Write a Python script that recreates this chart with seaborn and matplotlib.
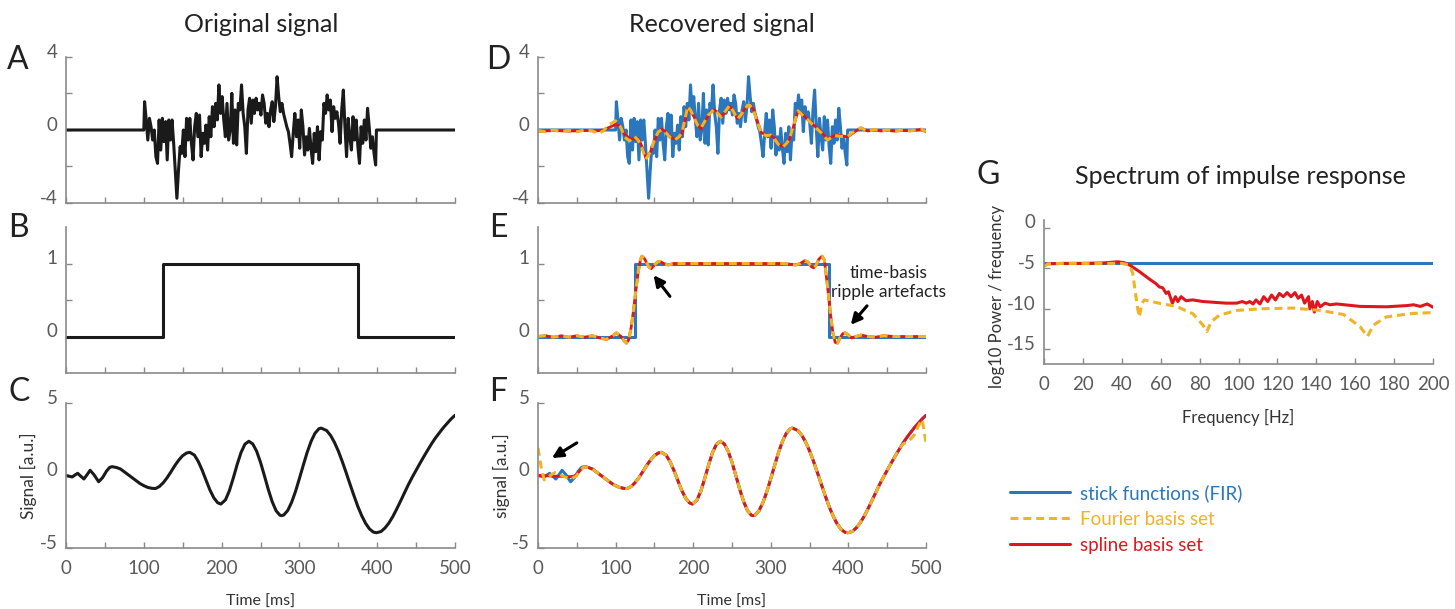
import numpy as np
import pandas as pd
import seaborn as sns
import matplotlib.pyplot as plt
from matplotlib.transforms import ScaledTranslation

sns.set_theme(style='ticks')
plt.rcParams['font.family'] = ['Lato', 'DejaVu Sans']
plt.rcParams['font.weight'] = 'normal'

blue = '#2b77bd'
yellow = '#f0b323'
red = '#e0161d'
grey = '#8a8a8a'
txt = '#5a5a5a'

# ---- noisy stimulus (panels A and D, blue in D), 101..398 ms
noise_first = [1.55, 0.55, -0.55, 0.64, 0.18, -0.55, 0.0, -1.46, -1.83, 0.55,
               -1.10, 0.64, -0.64, 0.46, -1.64, 0.55, -0.55, 0.55, -0.73, -2.19,
               -3.74, -2.19, -0.91, -1.28, 0.0, -1.46, 0.64, -0.55, 0.64, -0.73,
               -1.64, 0.18, 0.91, -0.37, 0.82, -1.46, -0.18, -0.73, 0.27, -1.10,
               0.73, -0.37, 1.28, 0.18, 1.46, 0.55, 2.47, 0.91, 1.83, 0.55,
               -0.37, 1.46, -0.55, 0.0, 2.01, -0.73, 1.10, -0.82, 1.46, 1.10,
               2.47, 0.91, 0.18, -1.28, 1.10, 1.74, 0.37, 1.64, 0.91, 1.74,
               1.10, 1.46]
noise_second = [0.82, 1.92, 1.46, 0.37, 0.91, 0.18, 1.10, 1.55, 0.46, 1.28,
                2.92, 1.83, 1.00, 1.46, 0.91, 0.55, 0.18, -0.09, -0.73, -1.46,
                -0.18, 0.91, -0.37, 0.55, -1.00, 1.10, 0.18, -1.37, -0.37, -1.10,
                0.09, -1.00, -1.83, -0.18, -1.19, 0.18, -1.64, -0.09, -0.55, 1.46,
                0.91, 1.92, 1.10, 1.64, -0.09, 1.28, 0.64, 1.00, 0.37, -0.73,
                1.10, 2.19, 0.18, -1.46, 0.64, -0.37, -1.10, 0.73, -0.55, 0.55,
                -0.91, -1.83, 0.18, -0.73, 0.55, -0.55, 1.19, 0.18, -1.00, -0.37,
                -1.28, -1.92]

# ---- box stimulus (B, blue in E)
box_t = [0, 125, 125, 375, 375, 500]
box_v = [0, 0, 1, 1, 0, 0]

# ---- chirp stimulus (C, blue in F)
chirp_t = [0, 4, 8, 12, 15, 19, 23, 27, 31, 36, 42, 47, 52, 56, 59, 65, 70, 75, 80, 85,
           90, 95, 100, 105, 110, 115, 120, 125, 130, 135, 140, 145, 150, 155, 159, 165,
           170, 175, 180, 185, 190, 195, 199, 205, 210, 215, 220, 225, 230, 235, 240,
           245, 250, 255, 260, 265, 270, 275, 277, 280, 285, 290, 295, 300, 305, 310,
           315, 320, 325, 328, 335, 340, 345, 350, 355, 360, 365, 370, 375, 380, 385,
           390, 395, 399, 405, 410, 415, 420, 425, 430, 435, 440, 445, 450, 455, 460,
           465, 470, 475, 480, 485, 490, 495, 500]
chirp_v = [0.0, -0.05, -0.1, 0.05, 0.15, -0.05, -0.24, 0.05, 0.36, 0.05, -0.43, -0.15,
           0.3, 0.55, 0.61, 0.55, 0.45, 0.25, 0.05, -0.15, -0.35, -0.55, -0.7, -0.82,
           -0.88, -0.9, -0.76, -0.5, -0.15, 0.26, 0.69, 1.07, 1.37, 1.55, 1.6, 1.41,
           0.97, 0.37, -0.32, -1.0, -1.54, -1.88, -1.97, -1.68, -1.05, -0.18, 0.76,
           1.59, 2.16, 2.36, 2.18, 1.68, 0.91, -0.01, -0.96, -1.8, -2.43, -2.74, -2.77,
           -2.72, -2.41, -1.85, -1.1, -0.21, 0.71, 1.6, 2.35, 2.91, 3.22, 3.27, 3.1,
           2.77, 2.29, 1.69, 0.98, 0.21, -0.59, -1.37, -2.12, -2.76, -3.29, -3.68,
           -3.9, -3.95, -3.86, -3.62, -3.28, -2.84, -2.32, -1.77, -1.2, -0.64, -0.12,
           0.36, 0.84, 1.31, 1.76, 2.2, 2.6, 2.95, 3.3, 3.6, 3.9, 4.15]

# ---- recovered noise (D)
d_red_t = [0, 20, 40, 60, 75, 85, 92, 100, 106, 112, 118, 124, 129, 134, 139, 145, 150,
           155, 159, 165, 170, 176, 181, 185, 189, 193, 197, 202, 206, 210, 214, 219,
           223, 227, 232, 236, 241, 247, 252, 257, 262, 266, 270, 273, 278, 283, 288,
           294, 300, 305, 310, 315, 320, 324, 330, 335, 340, 348, 356, 365, 373, 382,
           390, 399, 408, 416, 425, 433, 442, 450, 459, 470, 480, 494, 500]
d_red_v = [-0.07, -0.03, -0.06, -0.03, -0.05, 0.0, 0.15, 0.3, 0.2, -0.25, -0.45, -0.5,
           -0.45, -0.9, -1.53, -1.2, -0.6, -0.15, 0.05, -0.1, -0.35, -0.5, -0.45, -0.25,
           0.4, 1.15, 1.0, 0.66, 0.3, 0.05, 0.35, 0.75, 1.0, 1.1, 0.95, 0.75, 0.95, 1.3,
           1.05, 0.62, 0.8, 1.15, 1.3, 1.39, 1.1, 0.45, -0.16, -0.25, -0.31, -0.45,
           -0.75, -0.9, -0.8, -0.53, 0.3, 1.02, 0.9, 0.57, 0.24, -0.1, -0.5, -0.3, -0.3,
           -0.38, -0.1, 0.11, -0.05, 0.0, -0.05, -0.02, -0.06, -0.03, -0.04, 0.03, -0.1]
d_yel_t = [0, 10, 20, 30, 40, 50, 60, 70, 78, 84] + d_red_t[6:]
d_yel_v = [-0.03, -0.1, 0.0, -0.08, -0.02, -0.1, 0.0, -0.05, -0.2, -0.05,
           0.3, 0.5, 0.2, -0.4, -0.6, -0.35, -0.55, -1.0, -1.6, -1.2, -0.55, -0.1, 0.0,
           -0.15, -0.4, -0.55, -0.4, -0.2, 0.5, 1.3, 1.05, 0.6, 0.25, 0.1, 0.4, 0.8,
           0.95, 1.15, 0.9, 0.7, 1.0, 1.35, 1.0, 0.6, 0.85, 1.1, 1.35, 1.35, 1.05, 0.4,
           -0.2, -0.3, -0.28, -0.5, -0.8, -0.95, -0.75, -0.5, 0.35, 1.05, 0.85, 0.55,
           0.2, -0.15, -0.55, -0.3, -0.35, -0.35, -0.05, 0.12, -0.08, 0.03, -0.05, 0.0,
           -0.06, 0.0, -0.05, 0.05, -0.1]

# ---- recovered box (E), spline and Fourier overlap
e_t = [0, 10, 20, 30, 40, 50, 60, 70, 80, 88, 95, 101, 107, 111, 114, 117, 120, 123,
       126, 129, 132, 134, 137, 140, 143, 146, 150, 154, 157, 162, 168, 175, 185, 200,
       220, 240, 260, 280, 300, 315, 325, 332, 338, 344, 348, 352, 355, 358, 362, 366,
       369, 371, 374, 377, 380, 383, 386, 389, 393, 396, 400, 404, 410, 416, 425, 435,
       445, 460, 480, 500]
e_v = [0.0, 0.01, -0.01, 0.01, -0.01, 0.01, -0.01, 0.01, -0.02, -0.04, 0.0, 0.05, 0.0,
       -0.06, -0.09, -0.04, 0.12, 0.35, 0.62, 0.88, 1.05, 1.1, 1.07, 1.01, 0.95, 0.93,
       0.98, 1.02, 1.03, 1.0, 0.98, 1.0, 1.0, 1.0, 1.0, 1.0, 1.0, 1.0, 1.0, 1.0, 0.99,
       0.98, 1.0, 1.04, 1.02, 0.96, 0.94, 0.97, 1.06, 1.1, 1.05, 0.88, 0.6, 0.3, 0.05,
       -0.08, -0.09, -0.02, 0.04, 0.05, 0.02, -0.02, 0.0, 0.02, 0.0, -0.01, 0.01, 0.0,
       0.0, 0.0]

# ---- recovered chirp (F): only the ends differ from the stimulus
f_red_start_t = [0, 10, 20, 30, 40, 46, 50, 55, 60]
f_red_start_v = [0.0, -0.02, -0.04, -0.06, -0.08, -0.05, 0.08, 0.4, 0.62]
f_yel_start_t = [0, 4, 8, 12, 17, 22, 27, 32, 38, 44, 49, 54, 59]
f_yel_start_v = [1.9, 0.6, -0.3, -0.2, 0.05, 0.2, 0.1, -0.05, -0.15, -0.2, -0.05, 0.3, 0.6]
f_yel_end_t = [465, 470, 475, 480, 485, 490, 495, 500]
f_yel_end_v = [1.8, 2.15, 2.3, 2.5, 2.8, 3.4, 3.85, 2.3]

# ---- spectra (G)
g_fir_f = [0, 200]
g_fir_v = [-4.4, -4.4]
g_red_f = [0, 2, 10, 20, 30, 38, 41, 44, 49, 54, 57.6, 59.3, 61, 62.8, 64, 66, 67.6, 68.8,
           70.5, 73, 76.5, 81.7, 93.7, 99, 102, 104, 105.8, 107.5, 109, 111, 113, 115,
           117, 119, 121, 123, 125, 127, 129, 130.7, 132.4, 134, 136, 136.7, 138, 139,
           140.5, 142, 144.5, 147, 150.5, 162.5, 176, 186.6, 190, 193.5, 197, 200]
g_red_v = [-4.7, -4.45, -4.4, -4.4, -4.35, -4.2, -4.3, -4.6, -5.4, -6.3, -6.9, -7.3,
           -7.4, -8.1, -7.9, -9.3, -8.5, -9.1, -8.5, -9.0, -8.9, -9.1, -9.3, -9.3, -9.1,
           -9.3, -9.1, -9.4, -8.9, -9.4, -8.5, -9.1, -8.3, -8.9, -8.1, -8.5, -8.0, -8.5,
           -8.0, -8.7, -8.3, -9.3, -8.5, -10.0, -9.1, -10.4, -9.1, -9.75, -9.3, -9.5,
           -9.4, -9.7, -9.75, -9.6, -9.5, -9.7, -9.4, -9.8]
g_yel_f = [0, 2, 10, 20, 30, 40, 43.9, 45.6, 48, 49, 50.4, 51.6, 59, 68, 76.5, 81.7,
           83.7, 86, 90, 99, 111, 128, 142, 154, 162.5, 166.3, 169.4, 176, 188, 200]
g_yel_v = [-4.8, -4.45, -4.4, -4.4, -4.4, -4.4, -4.6, -5.6, -9.75, -11.0, -9.3, -8.9,
           -9.3, -9.7, -10.6, -12.0, -12.8, -11.6, -10.8, -10.2, -10.0, -9.9, -10.2,
           -10.7, -12.2, -13.4, -12.0, -11.0, -10.6, -10.45]

legend_labels = ['stick functions (FIR)', 'Fourier basis set', 'spline basis set']

# assemble series
noise_vals = noise_first + noise_second
noise_t = np.linspace(101, 398, len(noise_vals))
sig_t = [0, 100] + list(noise_t) + [399, 500]
sig_v = [0, 0] + noise_vals + [0, 0]

chirp = pd.DataFrame({'t': chirp_t, 'v': chirp_v})
mid = chirp[(chirp.t >= 65)]
f_red_t = f_red_start_t + list(mid.t)
f_red_v = f_red_start_v + list(mid.v)
mid2 = chirp[(chirp.t >= 65) & (chirp.t <= 460)]
f_yel_t = f_yel_start_t + list(mid2.t) + f_yel_end_t
f_yel_v = f_yel_start_v + list(mid2.v) + f_yel_end_v

W, H = 1455, 609
fig = plt.figure(figsize=(W / 100, H / 100), dpi=100)


def add_ax(left, right, top, bottom):
    return fig.add_axes([left / W, 1 - bottom / H, (right - left) / W, (bottom - top) / H])


dash = (0, (2.6, 1.6))


def line(ax, x, y, color, lw=2.2, ls='-'):
    sns.lineplot(x=x, y=y, ax=ax, color=color, lw=lw, linestyle=ls,
                 sort=False, estimator=None)


def style(ax, xlim, ylim, yticks, ylabels, xticks, xlabels=None):
    ax.set_xlim(*xlim)
    ax.set_ylim(*ylim)
    for s in ['top', 'right']:
        ax.spines[s].set_visible(False)
    for s in ['left', 'bottom']:
        ax.spines[s].set_color(grey)
        ax.spines[s].set_linewidth(1.2)
    ax.set_yticks(yticks, ylabels)
    if xlabels is None:
        ax.set_xticks(xticks, [''] * len(xticks))
    else:
        ax.set_xticks(xticks, xlabels)
    ax.tick_params(direction='in', length=4, width=1, color=grey,
                   labelcolor=txt, labelsize=13.5)
    ax.tick_params(axis='y', pad=6)
    ax.tick_params(axis='x', pad=9)
    ax.set_xlabel('')
    ax.set_ylabel('')
    off = ScaledTranslation(0, 4.5 / 72, fig.dpi_scale_trans)
    for lab in ax.get_yticklabels():
        lab.set_transform(lab.get_transform() + off)


xt = list(range(0, 501, 50))
xt_lab = [str(v) if v % 100 == 0 else '' for v in xt]

# left column
axA = add_ax(66, 455, 57, 203)
line(axA, sig_t, sig_v, '#1a1a1a')
style(axA, (0, 500), (-4, 4), [-4, -2, 0, 2, 4], ['-4', '', '0', '', '4'], xt)

axB = add_ax(66, 455, 227, 373)
line(axB, box_t, box_v, '#1a1a1a')
style(axB, (0, 500), (-0.5, 1.5), [0, 0.5, 1], ['0', '', '1'], xt)

axC = add_ax(66, 455, 403, 548)
line(axC, chirp_t, chirp_v, '#1a1a1a')
style(axC, (0, 500), (-5, 5), [-5, 0, 5], ['-5', '0', '5'], xt, xt_lab)

# middle column
axD = add_ax(538, 926, 57, 203)
line(axD, sig_t, sig_v, blue)
line(axD, d_red_t, d_red_v, red, lw=2.0)
line(axD, d_yel_t, d_yel_v, yellow, lw=2.2, ls=dash)
style(axD, (0, 500), (-4, 4), [-4, -2, 0, 2, 4], ['-4', '', '0', '', '4'], xt)

axE = add_ax(538, 926, 227, 373)
line(axE, box_t, box_v, blue)
line(axE, e_t, e_v, red, lw=2.0)
line(axE, e_t, e_v, yellow, lw=2.2, ls=dash)
style(axE, (0, 500), (-0.5, 1.5), [0, 0.5, 1], ['0', '', '1'], xt)

axF = add_ax(538, 926, 403, 548)
line(axF, chirp_t, chirp_v, blue)
line(axF, f_red_t, f_red_v, red, lw=2.0)
line(axF, f_yel_t, f_yel_v, yellow, lw=2.2, ls=dash)
style(axF, (0, 500), (-5, 5), [-5, 0, 5], ['-5', '0', '5'], xt, xt_lab)

# spectrum
axG = add_ax(1044, 1433, 220, 364)
line(axG, g_fir_f, g_fir_v, blue)
line(axG, g_red_f, g_red_v, red, lw=2.2)
line(axG, g_yel_f, g_yel_v, yellow, lw=2.2, ls=dash)
gx = list(range(0, 201, 20))
style(axG, (0, 200), (-16.8, 0.95), [-15, -10, -5, 0], ['-15', '-10', '-5', '0'],
      gx, [str(v) for v in gx])

# axis labels
lab_col = '#333333'
axC.set_xlabel('Time [ms]', fontsize=11.5, color=lab_col)
axF.set_xlabel('Time [ms]', fontsize=11.5, color=lab_col)
axC.xaxis.set_label_coords(0.5, -0.32)
axF.xaxis.set_label_coords(0.5, -0.32)
axC.set_ylabel('Signal [a.u.]', fontsize=12.5, color=lab_col)
axF.set_ylabel('signal [a.u.]', fontsize=12.5, color=lab_col)
axC.yaxis.set_label_coords(-0.075, 0.5)
axF.yaxis.set_label_coords(-0.072, 0.5)
axG.set_xlabel('Frequency [Hz]', fontsize=12, color=lab_col)
axG.xaxis.set_label_coords(0.5, -0.31)
axG.set_ylabel('log10 Power / frequency', fontsize=12, color=lab_col)
axG.yaxis.set_label_coords(-0.1, 0.47)

# annotations
arrow = dict(arrowstyle='-|>', lw=2.2, color='black', mutation_scale=16, shrinkA=0, shrinkB=0)
axE.annotate('', xy=(149, 0.84), xytext=(170, 0.55), arrowprops=arrow)
axE.annotate('', xy=(403, 0.16), xytext=(424, 0.42), arrowprops=arrow)
axE.text(452, 0.74, 'time-basis\nripple artefacts', ha='center', va='center',
         fontsize=12.5, color='#222222', linespacing=1.2, clip_on=False)
axF.annotate('', xy=(18, 1.2), xytext=(50, 2.25), arrowprops=arrow)

# titles and panel letters
fig.text(261 / W, 1 - 25 / H, 'Original signal', ha='center', va='center', fontsize=18, color='#222222')
fig.text(722 / W, 1 - 25 / H, 'Recovered signal', ha='center', va='center', fontsize=18, color='#222222')
fig.text(1240 / W, 1 - 177 / H, 'Spectrum of impulse response', ha='center', va='center',
         fontsize=18, color='#222222')
for letter, (px, py) in zip('ABCDEFG', [(18, 60), (18, 228), (19, 392), (498, 60),
                                         (498, 228), (498, 392), (988, 175)]):
    fig.text(px / W, 1 - py / H, letter, ha='center', va='center', fontsize=23, color='#222222')

# legend
handles = axG.get_lines()[:3]
order = [handles[0], handles[2], handles[1]]
leg = fig.legend(order, legend_labels, loc='upper left', bbox_to_anchor=(1010 / W, 1 - 484 / H),
                 frameon=False, fontsize=13.5, handlelength=3.2, labelspacing=0.47,
                 borderpad=0, borderaxespad=0, handletextpad=0.55)
for t, c in zip(leg.get_texts(), [blue, yellow, red]):
    t.set_color(c)

fig.savefig('out.png', dpi=100)
